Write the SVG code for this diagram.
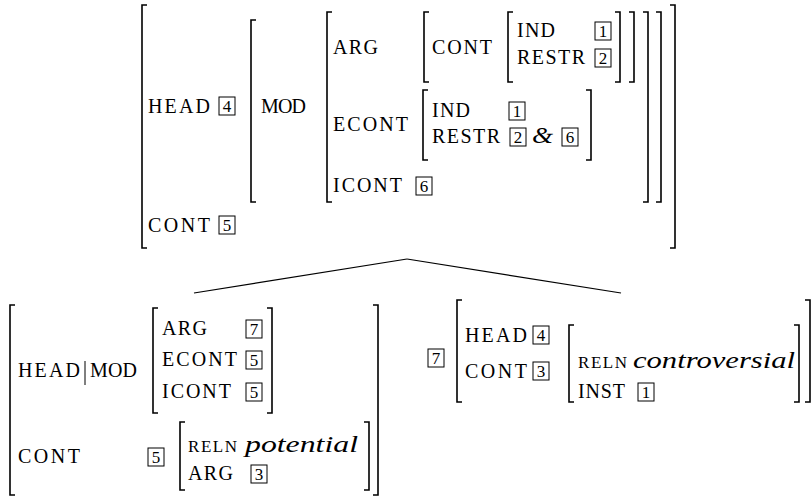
<svg xmlns="http://www.w3.org/2000/svg" width="812" height="497" viewBox="0 0 812 497" font-family="'Liberation Serif', 'DejaVu Serif', serif">
<style>
  text { font-family: "Liberation Serif", "DejaVu Serif", serif; fill: #000; }
  .l { font-size: 20px; }
  .s { font-size: 17px; }
  .it { font-style: italic; font-size: 23px; }
  .br { fill: none; stroke: #000; stroke-width: 1.6; }
  .bx { fill: none; stroke: #000; stroke-width: 1; }
  .d { font-size: 17px; text-anchor: middle; }
  .edge { stroke: #000; stroke-width: 1.2; fill: none; }
</style>
<rect width="812" height="497" fill="#fff"/>

<g id="connectors">
  <line class="edge" x1="407" y1="259" x2="194" y2="293"/>
  <line class="edge" x1="407" y1="259" x2="621" y2="293"/>
</g>

<g id="mother">
  <path class="br" d="M147,5 H142 V248 H147"/>
  <path class="br" d="M670,5 H675 V248 H670"/>
  <path class="br" d="M256,20 H251 V202 H256"/>
  <path class="br" d="M656,12 H661 V202 H656"/>
  <path class="br" d="M332,12 H327 V202 H332"/>
  <path class="br" d="M643,12 H648 V202 H643"/>
  <path class="br" d="M429,12 H424 V82 H429"/>
  <path class="br" d="M629,12 H634 V82 H629"/>
  <path class="br" d="M513,12 H508 V82 H513"/>
  <path class="br" d="M615,12 H620 V82 H615"/>
  <path class="br" d="M428,90 H423 V160 H428"/>
  <path class="br" d="M586,90 H591 V160 H586"/>

  <text class="l" x="148" y="113" textLength="62" lengthAdjust="spacing">HEAD</text>
  <rect class="bx" x="219" y="97" width="16" height="18"/><text class="d" x="227" y="112">4</text>
  <text class="l" x="148" y="232" textLength="62" lengthAdjust="spacing">CONT</text>
  <rect class="bx" x="219" y="216" width="16" height="18"/><text class="d" x="227" y="231">5</text>

  <text class="l" x="261" y="113" textLength="45" lengthAdjust="spacing">MOD</text>

  <text class="l" x="333" y="54" textLength="45" lengthAdjust="spacing">ARG</text>
  <text class="l" x="432" y="54" textLength="60" lengthAdjust="spacing">CONT</text>
  <text class="l" x="517" y="37" textLength="38" lengthAdjust="spacing">IND</text>
  <rect class="bx" x="595" y="22" width="16" height="18"/><text class="d" x="603" y="37">1</text>
  <text class="l" x="517" y="64" textLength="68" lengthAdjust="spacing">RESTR</text>
  <rect class="bx" x="595" y="49" width="16" height="18"/><text class="d" x="603" y="64">2</text>

  <text class="l" x="333" y="131" textLength="75" lengthAdjust="spacing">ECONT</text>
  <text class="l" x="432" y="117" textLength="38" lengthAdjust="spacing">IND</text>
  <rect class="bx" x="509" y="102" width="16" height="18"/><text class="d" x="517" y="117">1</text>
  <text class="l" x="432" y="143" textLength="68" lengthAdjust="spacing">RESTR</text>
  <rect class="bx" x="510" y="128" width="16" height="18"/><text class="d" x="518" y="143">2</text>
  <text class="it" x="532" y="143" textLength="21" lengthAdjust="spacingAndGlyphs">&amp;</text>
  <rect class="bx" x="562" y="128" width="16" height="18"/><text class="d" x="570" y="143">6</text>

  <text class="l" x="333" y="192" textLength="69" lengthAdjust="spacing">ICONT</text>
  <rect class="bx" x="416" y="177" width="16" height="18"/><text class="d" x="424" y="192">6</text>
</g>

<g id="daughter-left">
  <path class="br" d="M15,305 H10 V495 H15"/>
  <path class="br" d="M373,305 H378 V495 H373"/>
  <path class="br" d="M158,308 H153 V413 H158"/>
  <path class="br" d="M267,308 H272 V413 H267"/>
  <path class="br" d="M185,422 H180 V490 H185"/>
  <path class="br" d="M364,422 H369 V490 H364"/>

  <text class="l" x="18" y="377" textLength="62" lengthAdjust="spacing">HEAD</text>
  <line x1="85" y1="361" x2="85" y2="385" stroke="#000" stroke-width="1"/>
  <text class="l" x="90" y="377" textLength="47" lengthAdjust="spacing">MOD</text>

  <text class="l" x="162" y="335" textLength="45" lengthAdjust="spacing">ARG</text>
  <rect class="bx" x="246" y="320" width="16" height="18"/><text class="d" x="254" y="335">7</text>
  <text class="l" x="162" y="366" textLength="75" lengthAdjust="spacing">ECONT</text>
  <rect class="bx" x="246" y="351" width="16" height="18"/><text class="d" x="254" y="366">5</text>
  <text class="l" x="162" y="398" textLength="69" lengthAdjust="spacing">ICONT</text>
  <rect class="bx" x="246" y="383" width="16" height="18"/><text class="d" x="254" y="398">5</text>

  <text class="l" x="18" y="463" textLength="62" lengthAdjust="spacing">CONT</text>
  <rect class="bx" x="148" y="448" width="16" height="18"/><text class="d" x="156" y="463">5</text>
  <text class="s" x="188" y="452" textLength="49" lengthAdjust="spacing">RELN</text>
  <text class="it" x="245" y="452" textLength="113" lengthAdjust="spacingAndGlyphs">potential</text>
  <text class="l" x="188" y="480" textLength="45" lengthAdjust="spacing">ARG</text>
  <rect class="bx" x="251" y="465" width="16" height="18"/><text class="d" x="259" y="480">3</text>
</g>

<g id="daughter-right">
  <rect class="bx" x="428" y="349" width="16" height="18"/><text class="d" x="436" y="364">7</text>
  <path class="br" d="M462,300 H457 V402 H462"/>
  <path class="br" d="M805,300 H810 V402 H805"/>
  <path class="br" d="M574,325 H569 V402 H574"/>
  <path class="br" d="M794,325 H799 V402 H794"/>

  <text class="l" x="465" y="342" textLength="62" lengthAdjust="spacing">HEAD</text>
  <rect class="bx" x="533" y="326" width="16" height="18"/><text class="d" x="541" y="341">4</text>
  <text class="l" x="465" y="378" textLength="62" lengthAdjust="spacing">CONT</text>
  <rect class="bx" x="533" y="362" width="16" height="18"/><text class="d" x="541" y="377">3</text>
  <text class="s" x="578" y="368" textLength="49" lengthAdjust="spacing">RELN</text>
  <text class="it" x="633" y="368" textLength="162" lengthAdjust="spacingAndGlyphs">controversial</text>
  <text class="l" x="578" y="398" textLength="47" lengthAdjust="spacing">INST</text>
  <rect class="bx" x="638" y="383" width="16" height="18"/><text class="d" x="646" y="398">1</text>
</g>
</svg>
